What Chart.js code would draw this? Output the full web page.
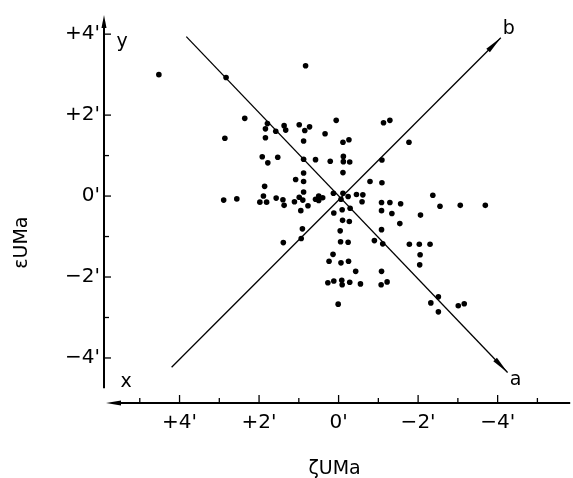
<!DOCTYPE html>
<html><head><meta charset="utf-8">
<script src="https://cdn.jsdelivr.net/npm/chart.js@4"></script>
<style>html,body{margin:0;padding:0;background:#fff}canvas{display:block}</style>
</head><body>
<canvas id="c" width="573" height="478"></canvas>
<script>
// ζ (x, arcmin) and ε (y, arcmin) of the stars
const zetaVals = [4.52,2.83,0.83,2.36,2.86,1.79,1.84,1.84,1.58,1.37,1.33,0.99,0.85,0.73,0.88,0.34,0.06,-0.11,-0.26,-1.13,-1.29,-1.77,
  1.92,1.78,1.53,0.88,0.58,0.21,-0.12,-0.12,-0.28,-1.09,-0.11,0.88,1.08,0.88,-0.79,-1.09,1.86,0.88,0.13,-0.11,-0.45,-0.61,-2.37,-0.24,
  2.89,2.56,1.98,1.89,1.81,1.57,1.40,1.37,1.11,0.99,0.90,0.77,0.95,0.58,0.50,0.40,0.50,-0.06,-0.59,-1.08,-1.29,-1.56,-2.55,-3.06,-3.69,
  0.12,-0.09,-0.29,-1.08,-1.34,-2.06,-1.54,-0.10,-0.27,0.91,-0.04,-1.08,1.39,0.94,-0.05,-0.24,-0.90,-1.11,-1.78,-2.03,-2.30,-2.05,
  0.14,0.24,-0.06,-0.25,-2.04,-0.43,-1.08,0.27,0.12,-0.08,-0.09,-0.28,-0.55,-1.07,-1.22,0.01,-2.51,-2.32,-2.51,-3.01,-3.16];
const epsVals = [3.00,2.93,3.22,1.92,1.43,1.79,1.66,1.44,1.60,1.74,1.63,1.76,1.62,1.71,1.36,1.54,1.87,1.33,1.39,1.81,1.87,1.33,
  0.97,0.82,0.96,0.91,0.90,0.86,0.98,0.85,0.84,0.89,0.58,0.57,0.41,0.36,0.36,0.33,0.24,0.10,0.07,0.07,0.04,0.03,0.02,-0.01,
  -0.10,-0.07,-0.15,0.00,-0.15,-0.05,-0.09,-0.23,-0.14,-0.03,-0.10,-0.24,-0.36,-0.08,0.00,-0.04,-0.11,-0.08,-0.14,-0.16,-0.16,-0.19,-0.25,-0.23,-0.23,
  -0.42,-0.34,-0.30,-0.36,-0.43,-0.47,-0.68,-0.60,-0.63,-0.81,-0.86,-0.83,-1.15,-1.05,-1.13,-1.14,-1.10,-1.18,-1.19,-1.19,-1.19,-1.45,
  -1.44,-1.61,-1.65,-1.61,-1.70,-1.86,-1.86,-2.14,-2.10,-2.08,-2.19,-2.13,-2.17,-2.19,-2.12,-2.67,-2.49,-2.64,-2.86,-2.71,-2.66];

// principal directions a and b (start -> arrow tip)
const lineA_zeta = [3.83, -4.25];
const lineA_eps  = [3.94, -4.36];
const lineB_zeta = [4.20, -4.08];
const lineB_eps  = [-4.23, 3.91];

// ticks
const xTickVals = [4, 2, 0, -2, -4];
const xTickLabels = ["+4'", "+2'", "0'", "\u22122'", "\u22124'"];
const xMinorVals = [5, 3, 1, -1, -3, -5];
const yTickVals = [4, 2, 0, -2, -4];
const yTickLabels = ["+4'", "+2'", "0'", "\u22122'", "\u22124'"];
const yMinorVals = [1, -1, -3];

const xTitle = "\u03B6UMa";
const yTitle = "\u03B5UMa";

Chart.defaults.font.family = "'DejaVu Sans', sans-serif";
Chart.defaults.color = '#000';

const stars = zetaVals.map((z, i) => ({x: z, y: epsVals[i]}));
const lineA = lineA_zeta.map((z, i) => ({x: z, y: lineA_eps[i]}));
const lineB = lineB_zeta.map((z, i) => ({x: z, y: lineB_eps[i]}));

function arrowHead(ctx, tx, ty, fx, fy, len, hw) {
  const dx = tx - fx, dy = ty - fy, d = Math.hypot(dx, dy);
  const ux = dx / d, uy = dy / d;
  const bx = tx - ux * len, by = ty - uy * len;
  ctx.beginPath();
  ctx.moveTo(tx, ty);
  ctx.lineTo(bx - uy * hw, by + ux * hw);
  ctx.lineTo(bx + uy * hw, by - ux * hw);
  ctx.closePath();
  ctx.fill();
}

const decor = {
  id: 'decor',
  afterDraw(chart) {
    const {ctx, chartArea: ca} = chart;
    const xs = chart.scales.x, ys = chart.scales.y;
    ctx.save();
    ctx.strokeStyle = '#000';
    ctx.fillStyle = '#000';
    ctx.lineCap = 'butt';

    // y axis
    const axX = ca.left + 1;
    const yBottom = ys.getPixelForValue(-4.75);
    ctx.lineWidth = 2;
    ctx.beginPath(); ctx.moveTo(axX, ca.top + 8); ctx.lineTo(axX, yBottom); ctx.stroke();
    arrowHead(ctx, axX, ca.top, axX, ca.top + 20, 13, 2.5);

    // x axis
    const axY = ca.bottom - 1;
    ctx.beginPath(); ctx.moveTo(ca.left + 12, axY); ctx.lineTo(ca.right, axY); ctx.stroke();
    arrowHead(ctx, ca.left + 3, axY, ca.left + 25, axY, 15, 2.5);

    // tick marks
    ctx.lineWidth = 1.3;
    yTickVals.forEach(v => { const p = ys.getPixelForValue(v); ctx.beginPath(); ctx.moveTo(axX, p); ctx.lineTo(axX + 7, p); ctx.stroke(); });
    yMinorVals.forEach(v => { const p = ys.getPixelForValue(v); ctx.beginPath(); ctx.moveTo(axX, p); ctx.lineTo(axX + 5, p); ctx.stroke(); });
    xTickVals.forEach(v => { const p = xs.getPixelForValue(v); ctx.beginPath(); ctx.moveTo(p, axY); ctx.lineTo(p, axY - 8); ctx.stroke(); });
    xMinorVals.forEach(v => { const p = xs.getPixelForValue(v); ctx.beginPath(); ctx.moveTo(p, axY); ctx.lineTo(p, axY - 5); ctx.stroke(); });

    // arrows on lines a and b
    const aT = {x: xs.getPixelForValue(lineA_zeta[1]), y: ys.getPixelForValue(lineA_eps[1])};
    const aF = {x: xs.getPixelForValue(lineA_zeta[0]), y: ys.getPixelForValue(lineA_eps[0])};
    const bT = {x: xs.getPixelForValue(lineB_zeta[1]), y: ys.getPixelForValue(lineB_eps[1])};
    const bF = {x: xs.getPixelForValue(lineB_zeta[0]), y: ys.getPixelForValue(lineB_eps[0])};
    arrowHead(ctx, aT.x, aT.y, aF.x, aF.y, 18, 2.5);
    arrowHead(ctx, bT.x, bT.y, bF.x, bF.y, 18, 2.5);

    // letters
    ctx.font = "19px 'DejaVu Sans'";
    ctx.textAlign = 'center';
    ctx.textBaseline = 'middle';
    ctx.fillText('a', aT.x + 8, aT.y + 8);
    ctx.fillText('b', bT.x + 8, bT.y - 9);
    ctx.fillText('y', ca.left + 19, ca.top + 27);
    ctx.fillText('x', ca.left + 23, ca.bottom - 22);

    // axis titles
    ctx.font = "19px 'DejaVu Sans'";
    ctx.fillText(xTitle, (ca.left + ca.right) / 2 - 2, ca.bottom + 65);
    ctx.save();
    ctx.translate(22, ys.getPixelForValue(-1.15));
    ctx.rotate(-Math.PI / 2);
    ctx.fillText(yTitle, 0, 0);
    ctx.restore();

    ctx.restore();
  }
};

new Chart(document.getElementById('c'), {
  type: 'scatter',
  data: {
    datasets: [
      {label: 'stars', data: stars, backgroundColor: '#000', borderColor: '#000', pointRadius: 2.8, pointBorderWidth: 0, pointHoverRadius: 2.8},
      {label: 'a', data: lineA, showLine: true, borderColor: '#000', borderWidth: 1.3, pointRadius: 0, fill: false},
      {label: 'b', data: lineB, showLine: true, borderColor: '#000', borderWidth: 1.3, pointRadius: 0, fill: false}
    ]
  },
  options: {
    responsive: false,
    animation: false,
    devicePixelRatio: 1,
    layout: {padding: {top: 10, left: 0, right: 0, bottom: 0}},
    plugins: {legend: {display: false}, tooltip: {enabled: false}, title: {display: false}},
    scales: {
      x: {
        type: 'linear', reverse: true, min: -5.825, max: 5.925,
        afterFit: s => { s.height = 74; },
        afterBuildTicks: s => { s.ticks = xTickVals.map(v => ({value: v})); },
        grid: {display: false, drawTicks: false},
        border: {display: false},
        ticks: {padding: 7, autoSkip: false, maxRotation: 0, color: '#000', font: {size: 20},
          callback: v => { const i = xTickVals.indexOf(v); return i >= 0 ? xTickLabels[i] : ''; }}
      },
      y: {
        type: 'linear', min: -5.137, max: 4.473,
        afterFit: s => { s.width = 103; },
        afterBuildTicks: s => { s.ticks = yTickVals.map(v => ({value: v})); },
        grid: {display: false, drawTicks: false},
        border: {display: false},
        ticks: {padding: 3, autoSkip: false, color: '#000', font: {size: 20},
          callback: v => { const i = yTickVals.indexOf(v); return i >= 0 ? yTickLabels[i] : ''; }}
      }
    }
  },
  plugins: [decor]
});
</script>
</body></html>
